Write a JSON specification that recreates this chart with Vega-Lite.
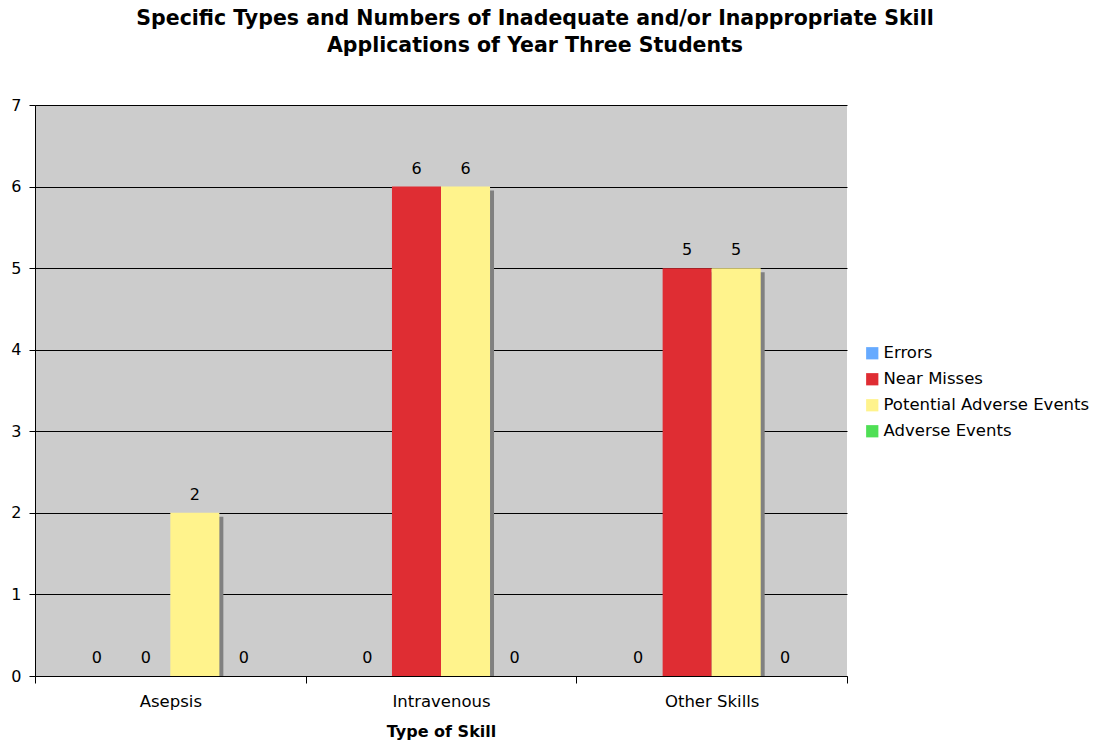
{
  "$schema": "https://vega.github.io/schema/vega-lite/v6.json",
  "autosize": {"type": "none"},
  "width": 812,
  "height": 571,
  "padding": {"left": 35, "top": 105, "right": 251, "bottom": 66},
  "background": "white",
  "config": {
    "font": "DejaVu Sans",
    "view": {"fill": "#CCCCCC", "stroke": null}
  },
  "title": {
    "text": ["Specific Types and Numbers of Inadequate and/or Inappropriate Skill", "Applications of Year Three Students"],
    "font": "DejaVu Sans",
    "fontSize": 20.5,
    "fontWeight": "bold",
    "color": "#000000",
    "anchor": "middle",
    "dx": 94,
    "lineHeight": 27,
    "offset": 41
  },
  "data": {
    "values": [
      {"skill": "Asepsis", "type": "Errors", "value": 0},
      {"skill": "Asepsis", "type": "Near Misses", "value": 0},
      {"skill": "Asepsis", "type": "Potential Adverse Events", "value": 2},
      {"skill": "Asepsis", "type": "Adverse Events", "value": 0},
      {"skill": "Intravenous", "type": "Errors", "value": 0},
      {"skill": "Intravenous", "type": "Near Misses", "value": 6},
      {"skill": "Intravenous", "type": "Potential Adverse Events", "value": 6},
      {"skill": "Intravenous", "type": "Adverse Events", "value": 0},
      {"skill": "Other Skills", "type": "Errors", "value": 0},
      {"skill": "Other Skills", "type": "Near Misses", "value": 5},
      {"skill": "Other Skills", "type": "Potential Adverse Events", "value": 5},
      {"skill": "Other Skills", "type": "Adverse Events", "value": 0}
    ]
  },
  "encoding": {
    "x": {
      "field": "skill",
      "type": "nominal",
      "sort": ["Asepsis", "Intravenous", "Other Skills"],
      "scale": {"paddingInner": 0, "paddingOuter": 0},
      "axis": {
        "title": "Type of Skill",
        "titleFont": "DejaVu Sans",
        "titleFontSize": 16,
        "titleFontWeight": "bold",
        "titleColor": "#000000",
        "titlePadding": 14,
        "labelAngle": 0,
        "labelFontSize": 16.5,
        "labelColor": "#000000",
        "labelPadding": 10,
        "tickBand": "extent",
        "tickColor": "#000000",
        "tickSize": 7,
        "domainColor": "#000000",
        "grid": false
      }
    },
    "y": {
      "field": "value",
      "type": "quantitative",
      "scale": {"domain": [0, 7], "nice": false},
      "axis": {
        "title": null,
        "values": [0, 1, 2, 3, 4, 5, 6, 7],
        "labelFontSize": 16,
        "labelColor": "#000000",
        "labelPadding": 8,
        "tickColor": "#000000",
        "tickSize": 6,
        "domainColor": "#000000",
        "grid": true,
        "gridColor": "#000000",
        "gridOpacity": 1,
        "gridWidth": 1
      }
    }
  },
  "layer": [
    {
      "transform": [{"filter": "datum.value > 0"}],
      "mark": {"type": "bar", "color": "#808080", "yOffset": 4, "clip": true},
      "encoding": {
        "xOffset": {
          "field": "type",
          "type": "nominal",
          "sort": ["Errors", "Near Misses", "Potential Adverse Events", "Adverse Events"],
          "scale": {"type": "band", "domain": ["Errors", "Near Misses", "Potential Adverse Events", "Adverse Events"], "paddingInner": 0, "paddingOuter": 0.76, "align": 0.5535}
        }
      }
    },
    {
      "encoding": {
        "xOffset": {
          "field": "type",
          "type": "nominal",
          "sort": ["Errors", "Near Misses", "Potential Adverse Events", "Adverse Events"],
          "scale": {"type": "band", "domain": ["Errors", "Near Misses", "Potential Adverse Events", "Adverse Events"], "paddingInner": 0, "paddingOuter": 0.76}
        }
      },
      "layer": [
        {
          "mark": {"type": "bar"},
          "encoding": {
            "color": {
              "field": "type",
              "type": "nominal",
              "sort": ["Errors", "Near Misses", "Potential Adverse Events", "Adverse Events"],
              "scale": {
                "domain": ["Errors", "Near Misses", "Potential Adverse Events", "Adverse Events"],
                "range": ["#66AAFF", "#DF2D33", "#FFF38C", "#4FDF55"]
              },
              "legend": {
                "title": null,
                "orient": "none",
                "legendX": 829,
                "legendY": 240,
                "symbolType": "square",
                "symbolSize": 150,
                "symbolStrokeWidth": 0,
                "symbolOpacity": 1,
                "labelFontSize": 16.5,
                "labelColor": "#000000",
                "labelOffset": 3,
                "labelLimit": 0,
                "rowPadding": 9
              }
            }
          }
        },
        {
          "mark": {"type": "text", "dy": -18, "fontSize": 16, "color": "#000000", "baseline": "middle"},
          "encoding": {
            "text": {"field": "value", "type": "quantitative"}
          }
        }
      ]
    }
  ],
  "resolve": {"scale": {"xOffset": "independent"}}
}
